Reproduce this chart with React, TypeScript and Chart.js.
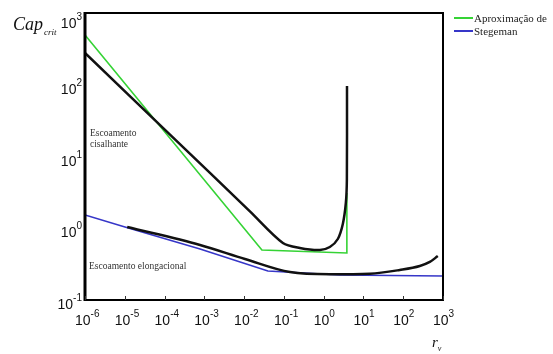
import React, { useEffect, useRef } from "react";
import { Chart, registerables } from "chart.js";

Chart.register(...registerables);

// Upper black curve (shear flow)
const shearX = [1e-6, 1.37e-4, 0.014, 0.0944, 0.252, 0.804, 1.43, 2.27, 3.03, 3.61, 3.83, 3.86];
const shearY = [277, 20.2, 1.72, 0.623, 0.531, 0.498, 0.548, 0.708, 1.146, 2.25, 4.7, 96];

// Lower black curve (elongational flow)
const elongX = [1.15e-5, 7.8e-4, 0.0105, 0.142, 1.43, 14.5, 82, 261, 466, 740];
const elongY = [1.04, 0.585, 0.373, 0.245, 0.228, 0.232, 0.262, 0.298, 0.339, 0.41];

// Green approximation
const approxX = [1e-6, 0.028, 3.83, 3.83];
const approxY = [493, 0.498, 0.452, 3.1];

// Blue Stegeman
const stegX = [1e-6, 1.01e-5, 7.8e-4, 0.0396, 2.55, 990];
const stegY = [1.53, 1.04, 0.514, 0.253, 0.223, 0.216];

const xTickValues = [1e-6, 1e-5, 1e-4, 1e-3, 1e-2, 1e-1, 1, 10, 100, 1000];
const xTickExp = ["-6", "-5", "-4", "-3", "-2", "-1", "0", "1", "2", "3"];
const yTickValues = [0.1, 1, 10, 100, 1000];
const yTickExp = ["-1", "0", "1", "2", "3"];

const legendLabels = ["Aproximação de", "Stegeman"];
const shearNote = ["Escoamento", "cisalhante"];
const elongNote = "Escoamento elongacional";

const GREEN = "#35d335";
const BLUE = "#3636c8";
const BLACK = "#111111";

function pts(xs: number[], ys: number[]) {
  return xs.map((x, i) => ({ x, y: ys[i] }));
}

const decorPlugin = {
  id: "decor",
  afterDraw(chart: any) {
    const ctx = chart.ctx as CanvasRenderingContext2D;
    const a = chart.chartArea;
    const xs = chart.scales.x;
    const ys = chart.scales.y;
    ctx.save();
    // frame
    ctx.strokeStyle = "#000";
    ctx.lineWidth = 2;
    ctx.strokeRect(a.left, a.top, a.right - a.left, a.bottom - a.top);
    ctx.lineWidth = 3;
    ctx.beginPath();
    ctx.moveTo(a.left, a.top - 1);
    ctx.lineTo(a.left, a.bottom + 1);
    ctx.stroke();

    // x ticks
    ctx.lineWidth = 1;
    ctx.strokeStyle = "#333";
    xTickValues.forEach((v) => {
      const px = Math.round(xs.getPixelForValue(v)) + 0.5;
      ctx.beginPath();
      ctx.moveTo(px, a.bottom);
      ctx.lineTo(px, a.bottom - 4);
      ctx.stroke();
    });

    // x labels
    ctx.fillStyle = "#111";
    ctx.textBaseline = "alphabetic";
    ctx.textAlign = "left";
    xTickValues.forEach((v, i) => {
      const px = xs.getPixelForValue(v);
      ctx.font = "14px 'Liberation Sans', Arial, sans-serif";
      const x0 = px - 10;
      ctx.fillText("10", x0, a.bottom + 25);
      const w = ctx.measureText("10").width;
      ctx.font = "10px 'Liberation Sans', Arial, sans-serif";
      ctx.fillText(xTickExp[i], x0 + w, a.bottom + 17);
    });

    // y labels
    yTickValues.forEach((v, i) => {
      const py = ys.getPixelForValue(v);
      const base = Math.max(py + 9, 28);
      ctx.font = "10px 'Liberation Sans', Arial, sans-serif";
      const ws = ctx.measureText(yTickExp[i]).width;
      ctx.font = "14px 'Liberation Sans', Arial, sans-serif";
      const w = ctx.measureText("10").width;
      const right = a.left - 3;
      ctx.fillText("10", right - ws - w, base);
      ctx.font = "10px 'Liberation Sans', Arial, sans-serif";
      ctx.fillText(yTickExp[i], right - ws, base - 8);
    });

    // annotations
    ctx.fillStyle = "#333";
    ctx.font = "9.5px 'Liberation Serif', 'Times New Roman', serif";
    ctx.fillText(shearNote[0], 90, 136);
    ctx.fillText(shearNote[1], 90, 147);
    ctx.fillText(elongNote, 89, 269);

    // legend
    const legColors = [GREEN, BLUE];
    ctx.font = "11px 'Liberation Serif', 'Times New Roman', serif";
    ctx.fillStyle = "#222";
    legendLabels.forEach((t, i) => {
      const ly = 18 + i * 13;
      ctx.strokeStyle = legColors[i];
      ctx.lineWidth = 2;
      ctx.beginPath();
      ctx.moveTo(454, ly);
      ctx.lineTo(473, ly);
      ctx.stroke();
      ctx.fillText(t, 474, ly + 4);
    });

    // axis titles
    ctx.fillStyle = "#111";
    ctx.font = "italic 18px 'Liberation Serif', 'Times New Roman', serif";
    ctx.fillText("Cap", 13, 30);
    const wc = ctx.measureText("Cap").width;
    ctx.font = "italic 9px 'Liberation Serif', 'Times New Roman', serif";
    ctx.fillText("crit", 13 + wc + 1, 35);

    ctx.font = "italic 15px 'Liberation Serif', 'Times New Roman', serif";
    ctx.fillText("r", 432, 347);
    const wr = ctx.measureText("r").width;
    ctx.font = "italic 8px 'Liberation Serif', 'Times New Roman', serif";
    ctx.fillText("v", 432 + wr, 351);
    ctx.restore();
  },
};

export default function App() {
  const ref = useRef<HTMLCanvasElement>(null);
  useEffect(() => {
    if (!ref.current) return;
    const chart = new Chart(ref.current, {
      type: "scatter",
      data: {
        datasets: [
          { label: "shear", data: pts(shearX, shearY), borderColor: BLACK, borderWidth: 2.5, showLine: true, pointRadius: 0, tension: 0.3 },
          { label: "elong", data: pts(elongX, elongY), borderColor: BLACK, borderWidth: 2.5, showLine: true, pointRadius: 0, cubicInterpolationMode: "monotone" },
          { label: legendLabels[0], data: pts(approxX, approxY), borderColor: GREEN, borderWidth: 1.6, showLine: true, pointRadius: 0, tension: 0 },
          { label: legendLabels[1], data: pts(stegX, stegY), borderColor: BLUE, borderWidth: 1.6, showLine: true, pointRadius: 0, tension: 0 },
        ],
      },
      options: {
        responsive: false,
        animation: false,
        devicePixelRatio: 1,
        layout: { padding: { left: 85, right: 110, top: 13, bottom: 54 } },
        plugins: { legend: { display: false }, tooltip: { enabled: false } },
        scales: {
          x: {
            type: "logarithmic",
            min: 1e-6,
            max: 1e3,
            grid: { display: false },
            border: { display: false },
            ticks: { display: false },
            afterFit: (s: any) => { s.height = 0; },
          },
          y: {
            type: "logarithmic",
            min: 0.1,
            max: 1000,
            grid: { display: false },
            border: { display: false },
            ticks: { display: false },
            afterFit: (s: any) => { s.width = 0; },
          },
        },
      },
      plugins: [decorPlugin],
    });
    return () => chart.destroy();
  }, []);
  return (
    <div style={{ position: "absolute", left: 0, top: 0, width: 553, height: 354, background: "#fff" }}>
      <canvas ref={ref} width={553} height={354} style={{ display: "block" }} />
    </div>
  );
}
